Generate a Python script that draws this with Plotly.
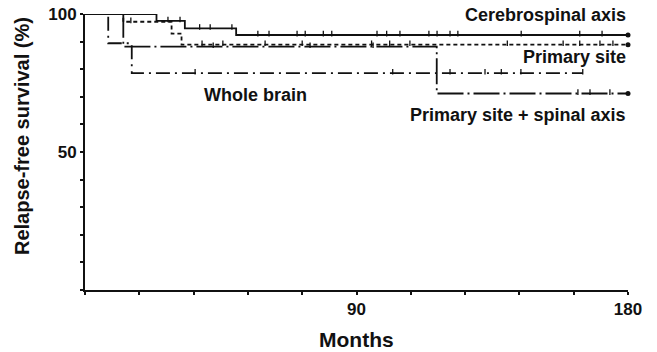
import plotly.graph_objects as go

# ---- data ----
# Step functions: times (months) where survival changes, and the survival after each step
cs_times = [0, 23.7, 33.1, 50.1, 180]
cs_surv = [100, 97.5, 94.8, 92.4, 92.4]
cs_censor = [12.4, 27.5, 31.5, 38, 41.5, 48.7, 57.3, 61, 70.3, 73, 79, 81.8, 96.8,
             100, 104.4, 114, 116.7, 121, 123.6, 144.6, 164, 171.4]

ps_times = [0, 12.7, 28.7, 32, 180]
ps_surv = [100, 97.2, 92.9, 88.9, 88.9]
ps_censor = [15.2, 38.8, 45.7, 59.7, 72, 95, 101, 107.7, 140, 158.5, 164, 170.7, 175]

wb_times = [0, 7.7, 15.5, 165]
wb_surv = [100, 89.4, 78.6, 78.6]
wb_censor = [36.5, 102, 121, 132.6, 138, 144.5, 165]

pss_times = [0, 12.7, 116.6, 180]
pss_surv = [100, 88.2, 71.2, 71.2]
pss_censor = [42.5, 74.6, 95.5, 163.4, 167.4, 174]

end_dot_series = ["cs", "ps", "pss"]

x_ticks = list(range(0, 181, 18))
x_labels = {90: "90", 180: "180"}
y_ticks = list(range(0, 101, 10))
y_labels = {50: "50", 100: "100"}

labels = {
    "Cerebrospinal axis": (180, 99.6, "right"),
    "Primary site": (180, 84.4, "right"),
    "Whole brain": (56.5, 70.7, "center"),
    "Primary site + spinal axis": (180, 63.4, "right"),
}


def surv_at(times, surv, t):
    s = surv[0]
    for ti, si in zip(times, surv):
        if ti <= t:
            s = si
    return s


INK = "#111111"
FONT = "Liberation Sans, Arial, sans-serif"

W, H = 657, 352
L, R, T, B = 85, 29, 14, 62
pw, ph = W - L - R, H - T - B

fig = go.Figure()

series = [
    ("cs", cs_times, cs_surv, cs_censor, "solid"),
    ("ps", ps_times, ps_surv, ps_censor, "4px,3px"),
    ("wb", wb_times, wb_surv, wb_censor, "14px,5px,2px,5px"),
    ("pss", pss_times, pss_surv, pss_censor, "26px,4px,2px,4px"),
]

for key, t, s, cens, dash in series:
    fig.add_trace(go.Scatter(
        x=t, y=s, mode="lines", line=dict(color=INK, width=1.8, dash=dash, shape="hv"),
        showlegend=False, hoverinfo="skip", cliponaxis=False))
    fig.add_trace(go.Scatter(
        x=cens, y=[surv_at(t, s, c) + 0.5 for c in cens], mode="markers",
        marker=dict(symbol="line-ns", size=4, line=dict(color=INK, width=1.3)),
        showlegend=False, hoverinfo="skip", cliponaxis=False))
    if key in end_dot_series:
        fig.add_trace(go.Scatter(
            x=[t[-1]], y=[s[-1]], mode="markers",
            marker=dict(symbol="circle", size=5, color=INK),
            showlegend=False, hoverinfo="skip", cliponaxis=False))

for text, (x, y, anchor) in labels.items():
    fig.add_annotation(x=x, y=y, xref="x", yref="y", text="<b>%s</b>" % text,
                       showarrow=False, xanchor=anchor, yanchor="middle",
                       font=dict(family=FONT, size=18, color=INK))

# axis titles (positions given in pixels, converted to paper coordinates)
fig.add_annotation(x=(22 - L) / pw, y=(H - B - 136) / ph, xref="paper", yref="paper",
                   text="<b>Relapse-free survival (%)</b>", showarrow=False, textangle=-90,
                   xanchor="center", yanchor="middle",
                   font=dict(family=FONT, size=20, color=INK))
fig.add_annotation(x=(356 - L) / pw, y=(H - B - 339) / ph, xref="paper", yref="paper",
                   text="<b>Months</b>", showarrow=False, xanchor="center", yanchor="middle",
                   font=dict(family=FONT, size=21, color=INK))

fig.update_layout(
    width=W, height=H,
    margin=dict(l=L, r=R, t=T, b=B, autoexpand=False),
    paper_bgcolor="white", plot_bgcolor="white",
    font=dict(family=FONT, color=INK),
    xaxis=dict(range=[0, 180], tickvals=x_ticks,
               ticktext=["<b>%s</b>" % x_labels.get(v, "") for v in x_ticks],
               ticks="outside", ticklen=3, tickwidth=1.5, tickcolor=INK,
               showline=True, linecolor=INK, linewidth=2, showgrid=False, zeroline=False,
               tickfont=dict(family=FONT, size=17, color=INK), fixedrange=True,
               automargin=False),
    yaxis=dict(range=[0, 100], tickvals=y_ticks,
               ticktext=["<b>%s</b>" % y_labels.get(v, "") for v in y_ticks],
               ticks="outside", ticklen=3, tickwidth=1.5, tickcolor=INK,
               showline=True, linecolor=INK, linewidth=2, showgrid=False, zeroline=False,
               tickfont=dict(family=FONT, size=17, color=INK), fixedrange=True,
               automargin=False),
)

fig.write_html("out.html")
